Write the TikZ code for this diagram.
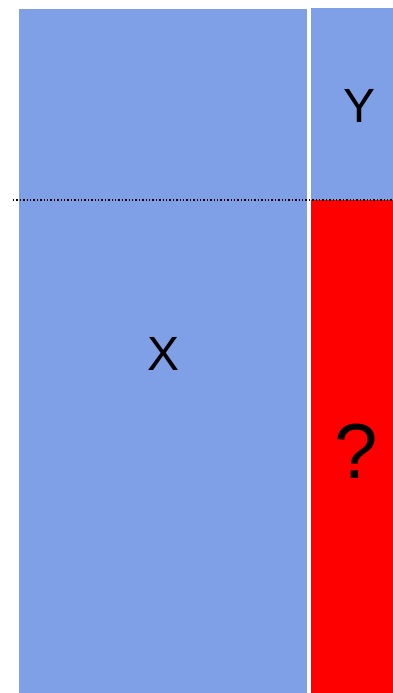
\documentclass[tikz,border=0pt]{standalone}
\usepackage{fontspec}
\setmainfont{Liberation Sans}
\usepackage{xcolor}
\usepackage{tikz}
\usetikzlibrary{positioning}
\definecolor{blockblue}{RGB}{127,159,230}
\definecolor{blockred}{RGB}{255,0,0}
\tikzset{
  part/.style={rectangle, fill=#1, draw=none, inner sep=0pt, anchor=north west},
  part/.default=blockblue,
  lbl/.style={font=\fontsize{48}{48}\selectfont, text=black, inner sep=0pt},
  cut/.style={dotted, line width=1.4pt, color=black},
}
\begin{document}
\begin{tikzpicture}[x=1pt, y=-1pt]
  \useasboundingbox (0,0) rectangle (393,693);
  \node[part, minimum width=288pt, minimum height=684pt] (known) at (19,9) {};
  \node[part, minimum width=82pt, minimum height=192pt] (top) at (311,8) {};
  \node[part=blockred, minimum width=82pt, minimum height=493pt] (unknown) at (311,200) {};
  \node[lbl] (x) at (164,354) {X};
  \node[lbl] (y) at (359.5,105.5) {Y};
  \node[lbl, font=\fontsize{78}{78}\selectfont] (q) at (356,451.5) {?};

  \coordinate (cutl) at (13,200);
  \coordinate (cutr) at (392,200);
  \draw[cut] (cutl) -- (cutr);
\end{tikzpicture}
\end{document}
